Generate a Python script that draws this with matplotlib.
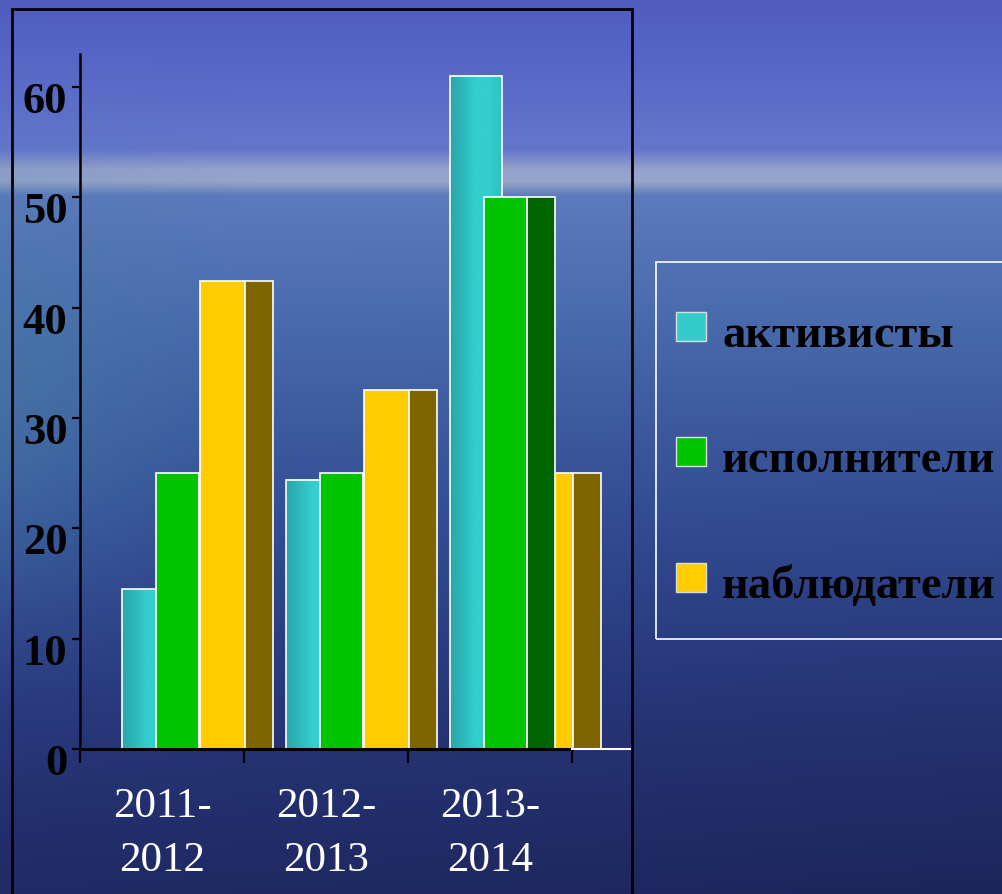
import numpy as np
import matplotlib
matplotlib.use("Agg")
import matplotlib.pyplot as plt
import matplotlib.transforms as mtransforms
from matplotlib.patches import Rectangle
from matplotlib.colors import LinearSegmentedColormap

# ---------------- data ----------------
categories = ["2011-\n2012", "2012-\n2013", "2013-\n2014"]
series = ["активисты", "исполнители", "наблюдатели"]
activists = [14.5, 24.4, 61.0]
performers = [25.0, 25.0, 50.0]
observers = [42.4, 32.5, 25.0]
yticks = [0, 10, 20, 30, 40, 50, 60]

front_colors = ["#33CCCC", "#00C400", "#FFCC00"]
side_colors = [None, "#006400", "#7F6500"]

W, H = 1003, 895
fig = plt.figure(figsize=(W / 100, H / 100), dpi=100)

# ---------------- background (sky / sea gradient) ----------------
bg = fig.add_axes([0, 0, 1, 1], zorder=-10)
bg.set_axis_off()
ys = np.array([0, 60, 150, 170, 182, 196, 330, 520, 700, 895]) / H
cols = np.array([
    [80, 92, 190],
    [86, 102, 198],
    [100, 118, 204],
    [150, 162, 205],
    [150, 165, 200],
    [92, 122, 188],
    [72, 106, 172],
    [52, 78, 150],
    [40, 56, 125],
    [32, 42, 100],
]) / 255.0
ny, nx = 450, 200
yy = np.linspace(0, 1, ny)
xx = np.linspace(0, 1, nx)
prof = np.stack([np.interp(yy, ys, cols[:, c]) for c in range(3)], axis=1)
img = np.repeat(prof[:, None, :], nx, axis=1)
teal = np.array([70, 125, 165]) / 255.0
wx = np.clip(1 - xx / 0.25, 0, 1)[None, :]
wy = np.exp(-((yy - 0.45) / 0.22) ** 2)[:, None]
w = (wx * wy * 0.55)[..., None]
img = img * (1 - w) + teal * w
dark = (0.10 * xx)[None, :, None] * np.clip((yy - 0.25) / 0.75, 0, 1)[:, None, None]
img = np.clip(img * (1 - dark), 0, 1)
bg.imshow(img, extent=(0, 1, 0, 1), aspect="auto", origin="upper")
bg.set_xlim(0, 1)
bg.set_ylim(0, 1)

# ---------------- main axes ----------------
x0_px, x1_px = 80, 630
y0_px, ytop_px = 750, 55
px_per_unit = (750 - 88) / 60.0
ymax = (y0_px - ytop_px) / px_per_unit
group_px = 164
xmax = (x1_px - x0_px) / group_px

ax = fig.add_axes([x0_px / W, (H - y0_px) / H, (x1_px - x0_px) / W, (y0_px - ytop_px) / H])
ax.patch.set_alpha(0)
ax.set_xlim(0, xmax)
ax.set_ylim(0, ymax)

# bar layout within a group (fractions of group width)
cy_l, cy_r = 0.256, 0.573
gf_l, gf_r = 0.463, 0.726
gs_l, gs_r = 0.726, 0.896
yf_l, yf_r = 0.732, 1.006
ys_l, ys_r = 1.006, 1.177

cmap_cyan = LinearSegmentedColormap.from_list(
    "cy", ["#2AA6AA", "#2EB9BB", "#34CECE", "#34CECE", "#30C2C3"])
grad = np.linspace(0, 1, 64)[None, :]

for i in range(len(categories)):
    a, p, o = activists[i], performers[i], observers[i]
    ax.imshow(grad, cmap=cmap_cyan, extent=(i + cy_l, i + cy_r, 0, a),
              aspect="auto", zorder=2, interpolation="bilinear")
    ax.add_patch(Rectangle((i + cy_l, 0), cy_r - cy_l, a, fill=False,
                           edgecolor="white", lw=1.2, zorder=2.1))
    ax.bar(i + gf_l, p, width=gf_r - gf_l, align="edge", color=front_colors[1],
           edgecolor="white", lw=1.2, zorder=3)
    z_gs, z_yf = (5, 4) if p > o else (4, 5)
    ax.bar(i + gs_l, p, width=gs_r - gs_l, align="edge", color=side_colors[1],
           edgecolor="white", lw=1.2, zorder=z_gs)
    ax.bar(i + yf_l, o, width=yf_r - yf_l, align="edge", color=front_colors[2],
           edgecolor="white", lw=1.2, zorder=z_yf)
    ax.bar(i + ys_l, o, width=ys_r - ys_l, align="edge", color=side_colors[2],
           edgecolor="white", lw=1.2, zorder=6)

# axes styling
for s in ["top", "right", "bottom"]:
    ax.spines[s].set_visible(False)
ax.spines["left"].set_color("black")
ax.spines["left"].set_linewidth(1.8)
ax.axhline(0, xmin=0, xmax=3 / xmax, color="black", lw=2.2, zorder=7, clip_on=False)
ax.axhline(0, xmin=3 / xmax, xmax=1, color="white", lw=1.5, zorder=7, clip_on=False)

ax.set_yticks(yticks)
ax.set_yticklabels([str(t) for t in yticks], fontsize=32, fontweight="bold",
                   family="Liberation Serif", color="black", va="top")
ax.tick_params(axis="y", direction="out", length=6, width=1.6, color="black", pad=3)
offset = mtransforms.ScaledTranslation(0, 6 / 100, fig.dpi_scale_trans)
for lab in ax.get_yticklabels():
    lab.set_transform(lab.get_transform() + offset)

ax.set_xticks([0, 1, 2, 3])
ax.set_xticklabels([])
ax.tick_params(axis="x", direction="out", length=10, width=1.6, color="black")
for i, c in enumerate(categories):
    ax.text(i + 0.5, -38 / px_per_unit, c, ha="center", va="top", fontsize=31,
            family="Liberation Serif", color="white", linespacing=1.52,
            clip_on=False)

# outer frame
fig.patches.append(Rectangle((12 / W, -0.02), (632 - 12) / W, 1.02 - 10 / H,
                             transform=fig.transFigure, fill=False,
                             edgecolor="black", lw=2, zorder=20))

# legend box
fig.patches.append(Rectangle((656 / W, 1 - 640 / H), (1020 - 656) / W, (640 - 263) / H,
                             transform=fig.transFigure, fill=False,
                             edgecolor="white", lw=1.2, zorder=20))
leg_y = [327, 452, 578]
for name, col, yc in zip(series, front_colors, leg_y):
    fig.patches.append(Rectangle((676 / W, 1 - (yc + 14.5) / H), 30 / W, 29 / H,
                                 transform=fig.transFigure, facecolor=col,
                                 edgecolor="#DDDDDD", lw=1.0, zorder=21))
    fig.text(722 / W, 1 - (yc + 20) / H, name, fontsize=33.5, fontweight="bold",
             family="Liberation Serif", color="black", ha="left", va="baseline",
             zorder=21)

fig.savefig("out.png", dpi=100)
